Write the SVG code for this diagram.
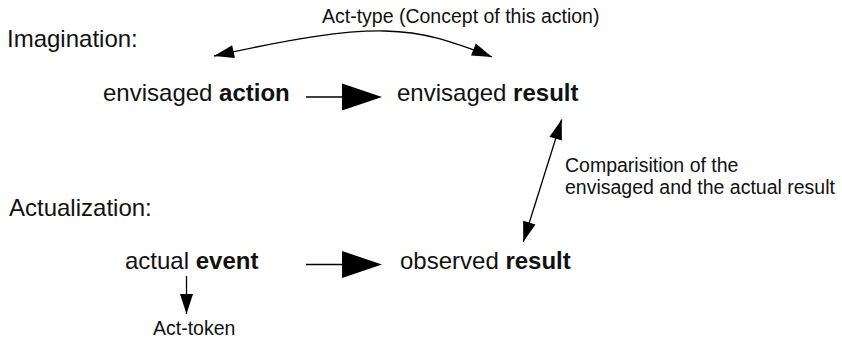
<svg xmlns="http://www.w3.org/2000/svg" width="842" height="339" viewBox="0 0 842 339">
  <style>
    text { font-family: "Liberation Sans", Arial, sans-serif; fill: #111; }
    .big { font-size: 24px; }
    .small { font-size: 19.5px; }
    .b { font-weight: bold; }
    .conn { fill: none; stroke: #000; stroke-width: 1.3; }
  </style>
  <defs>
    <!-- large filled head, drawn forward from the line end -->
    <marker id="bigHead" markerUnits="userSpaceOnUse" markerWidth="42" markerHeight="29" refX="0" refY="13.5" orient="auto" overflow="visible">
      <path d="M0,0 L40,13.5 L0,27 z" fill="#000"/>
    </marker>
    <!-- small filled head, tip at the line end -->
    <marker id="smallHead" markerUnits="userSpaceOnUse" markerWidth="22" markerHeight="14" refX="20" refY="6.5" orient="auto-start-reverse" overflow="visible">
      <path d="M0,0 L20,6.5 L0,13 z" fill="#000"/>
    </marker>
  </defs>

  <g id="label-imagination">
    <text class="big" x="7" y="47">Imagination:</text>
  </g>
  <g id="label-actualization">
    <text class="big" x="9" y="216">Actualization:</text>
  </g>

  <g id="node-envisaged-action">
    <text class="big" x="103" y="101">envisaged <tspan class="b">action</tspan></text>
  </g>
  <g id="node-envisaged-result">
    <text class="big" x="397" y="101">envisaged <tspan class="b">result</tspan></text>
  </g>
  <g id="node-actual-event">
    <text class="big" x="125" y="269">actual <tspan class="b">event</tspan></text>
  </g>
  <g id="node-observed-result">
    <text class="big" x="400" y="269">observed <tspan class="b">result</tspan></text>
  </g>
  <g id="node-act-token">
    <text class="small" x="153" y="335">Act-token</text>
  </g>

  <g id="connectors">
    <!-- action -> result (imagination) -->
    <path class="conn" d="M306,97 L342,97" marker-end="url(#bigHead)"/>
    <!-- event -> observed result (actualization) -->
    <path class="conn" d="M306,264.5 L342,264.5" marker-end="url(#bigHead)"/>
    <!-- act-type: two-way curve over the top row -->
    <path class="conn" d="M214,56 C378.5,19.8 412.5,25.2 492,57" marker-start="url(#smallHead)" marker-end="url(#smallHead)"/>
    <!-- comparison between envisaged and observed result -->
    <path class="conn" d="M561.7,119.5 L523.3,241.7" marker-start="url(#smallHead)" marker-end="url(#smallHead)"/>
    <!-- event -> act-token -->
    <path class="conn" d="M186.5,276 L186.5,314" marker-end="url(#smallHead)"/>
  </g>

  <g id="label-act-type">
    <text class="small" x="322" y="23">Act-type (Concept of this action)</text>
  </g>
  <g id="label-comparison">
    <text class="small" x="565" y="172">Comparisition of the</text>
    <text class="small" x="565" y="194">envisaged and the actual result</text>
  </g>
</svg>
